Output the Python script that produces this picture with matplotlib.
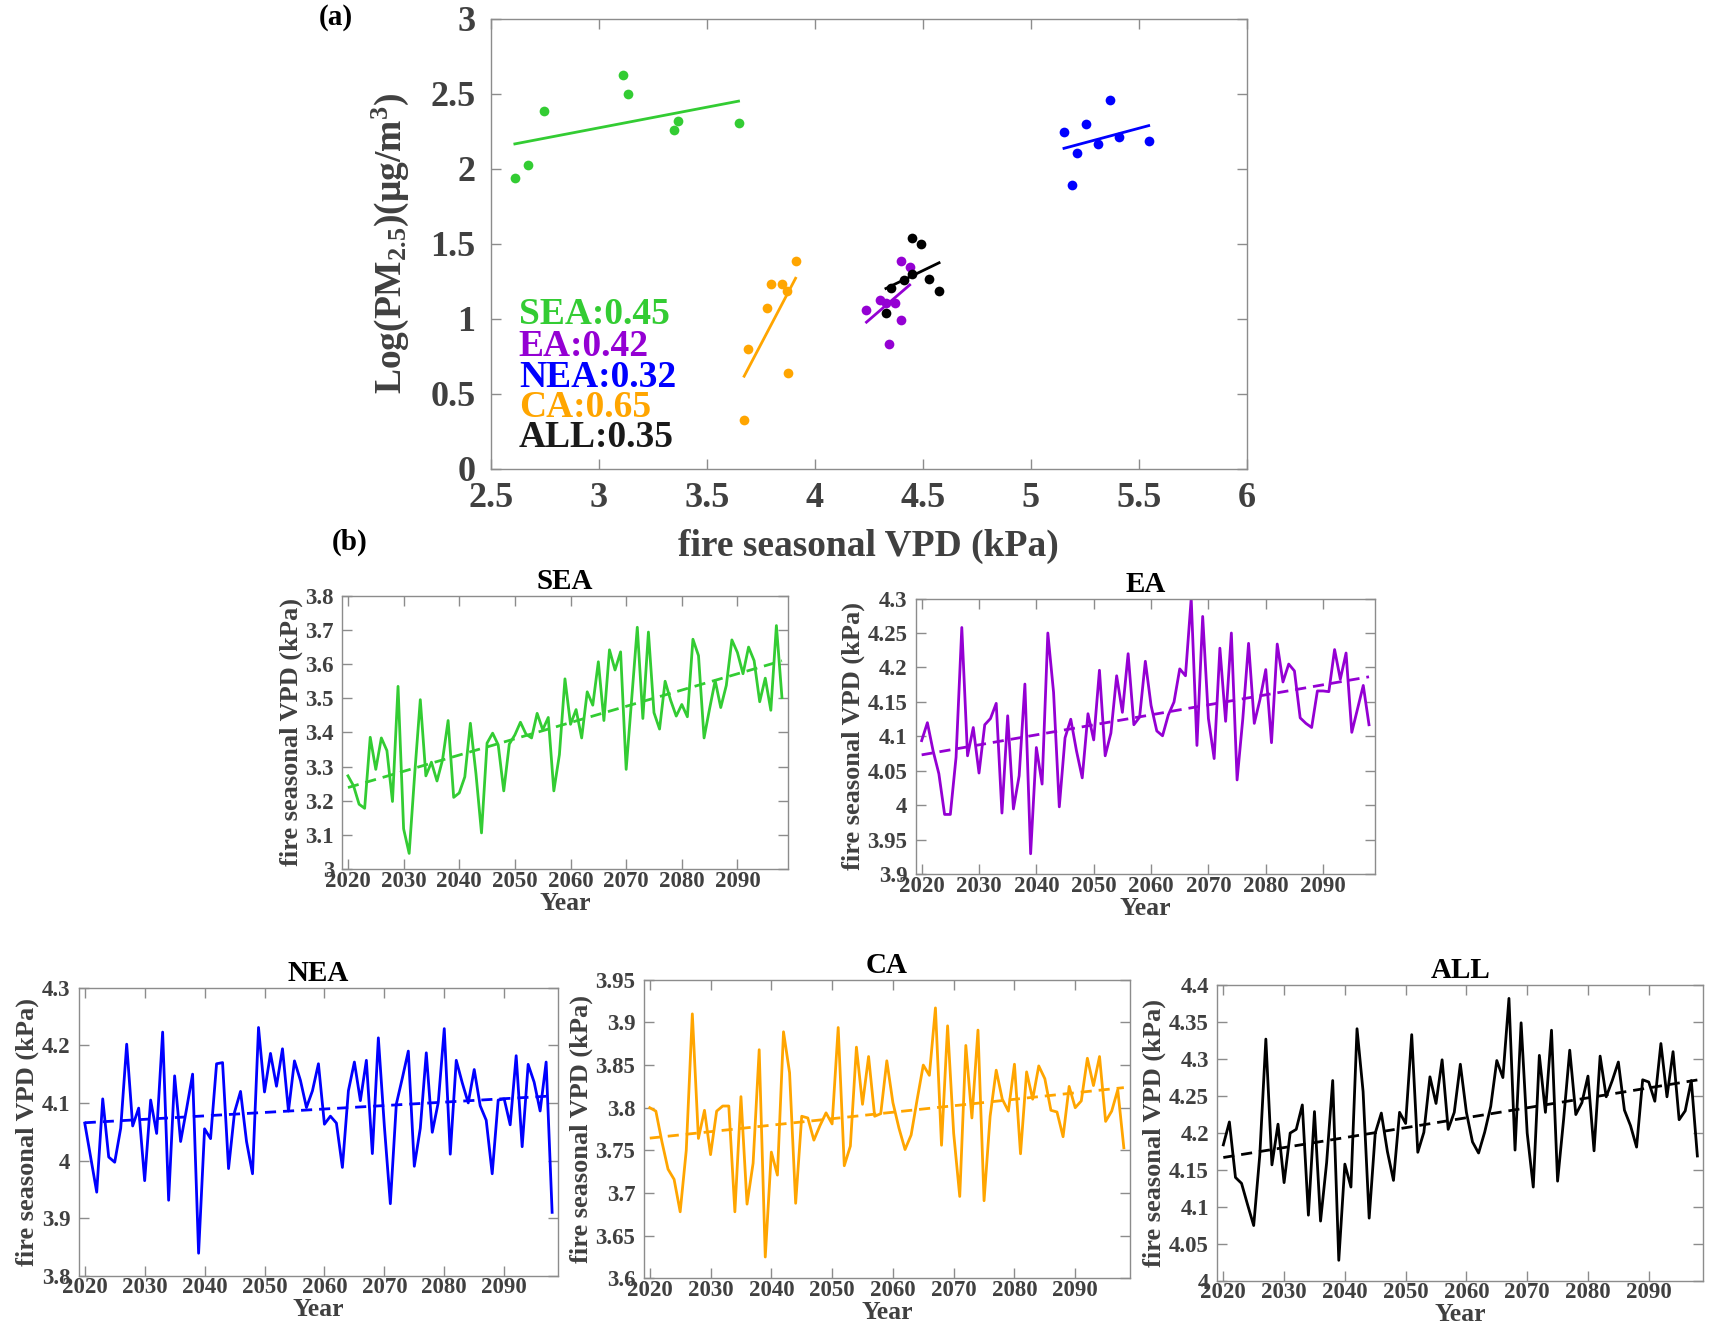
import numpy as np
import matplotlib
matplotlib.use("Agg")
import matplotlib.pyplot as plt
from matplotlib.ticker import FuncFormatter

plt.rcParams['font.family'] = ['Liberation Serif', 'DejaVu Serif']
plt.rcParams['font.weight'] = 'bold'
plt.rcParams['mathtext.fontset'] = 'custom'
plt.rcParams['mathtext.rm'] = 'Liberation Serif:bold'
plt.rcParams['mathtext.bf'] = 'Liberation Serif:bold'
plt.rcParams['mathtext.it'] = 'Liberation Serif:bold'

# ---------------- data ----------------
regions = ["SEA", "EA", "NEA", "CA", "ALL"]
colors = {"SEA": "#33cc33", "EA": "#9400d3", "NEA": "#0000ff", "CA": "#ffa500", "ALL": "#000000"}
r_values = ["0.45", "0.42", "0.32", "0.65", "0.35"]

# panel (a): fire-season VPD vs Log(PM2.5)
sea_x = [2.612, 2.673, 2.745, 3.113, 3.137, 3.348, 3.369, 3.647]
sea_y = [1.939, 2.027, 2.387, 2.621, 2.497, 2.258, 2.316, 2.306]
ea_x = [4.239, 4.300, 4.329, 4.369, 4.345, 4.401, 4.399, 4.439]
ea_y = [1.054, 1.121, 1.104, 1.104, 0.832, 0.990, 1.385, 1.347]
nea_x = [5.153, 5.188, 5.215, 5.255, 5.311, 5.364, 5.407, 5.545]
nea_y = [2.244, 1.891, 2.101, 2.296, 2.165, 2.459, 2.211, 2.184]
ca_x = [3.673, 3.692, 3.780, 3.799, 3.847, 3.871, 3.876, 3.911]
ca_y = [0.324, 0.794, 1.071, 1.228, 1.228, 1.185, 0.634, 1.385]
all_x = [4.329, 4.353, 4.412, 4.452, 4.452, 4.492, 4.527, 4.575]
all_y = [1.040, 1.202, 1.254, 1.295, 1.540, 1.495, 1.266, 1.183]

# panel (b): projected fire-season VPD, 2020-2098
years = np.arange(2020, 2099)
sea_vpd = [3.273, 3.244, 3.19, 3.178, 3.386, 3.292, 3.384, 3.347, 3.198, 3.535,
           3.118, 3.046, 3.28, 3.496, 3.273, 3.313, 3.258, 3.32, 3.435, 3.21,
           3.223, 3.27, 3.427, 3.28, 3.106, 3.369, 3.398, 3.364, 3.229, 3.366,
           3.393, 3.43, 3.395, 3.384, 3.456, 3.408, 3.444, 3.229, 3.335, 3.557,
           3.424, 3.467, 3.384, 3.519, 3.48, 3.607, 3.435, 3.642, 3.583, 3.636,
           3.292, 3.5, 3.708, 3.441, 3.694, 3.458, 3.41, 3.55, 3.494, 3.448,
           3.482, 3.446, 3.673, 3.625, 3.384, 3.47, 3.552, 3.473, 3.538, 3.671,
           3.634, 3.572, 3.65, 3.61, 3.49, 3.559, 3.465, 3.713, 3.502]
ea_vpd = [4.094, 4.12, 4.079, 4.046, 3.987, 3.987, 4.07, 4.258, 4.072, 4.113,
          4.047, 4.117, 4.126, 4.148, 3.989, 4.13, 3.995, 4.043, 4.176, 3.93,
          4.084, 4.031, 4.25, 4.164, 3.998, 4.098, 4.125, 4.079, 4.04, 4.133,
          4.095, 4.196, 4.072, 4.105, 4.188, 4.135, 4.22, 4.117, 4.128, 4.209,
          4.145, 4.108, 4.101, 4.131, 4.15, 4.198, 4.188, 4.30, 4.087, 4.274,
          4.126, 4.068, 4.228, 4.122, 4.25, 4.037, 4.126, 4.235, 4.119, 4.154,
          4.197, 4.091, 4.234, 4.179, 4.205, 4.195, 4.127, 4.119, 4.113, 4.166,
          4.166, 4.165, 4.226, 4.183, 4.221, 4.106, 4.14, 4.174, 4.117]
nea_vpd = [4.065, 4.005, 3.945, 4.107, 4.006, 3.997, 4.056, 4.202, 4.06, 4.091,
           3.965, 4.105, 4.047, 4.223, 3.931, 4.147, 4.033, 4.09, 4.15, 3.839,
           4.055, 4.038, 4.168, 4.17, 3.986, 4.084, 4.12, 4.033, 3.977, 4.231,
           4.119, 4.186, 4.129, 4.194, 4.086, 4.173, 4.139, 4.092, 4.121, 4.168,
           4.063, 4.077, 4.065, 3.988, 4.121, 4.171, 4.104, 4.174, 4.012, 4.213,
           4.06, 3.925, 4.098, 4.143, 4.19, 3.99, 4.056, 4.187, 4.049, 4.101,
           4.229, 4.011, 4.174, 4.135, 4.1, 4.158, 4.095, 4.07, 3.977, 4.105,
           4.107, 4.062, 4.182, 4.024, 4.167, 4.136, 4.086, 4.171, 3.91]
ca_vpd = [3.8, 3.796, 3.76, 3.728, 3.716, 3.678, 3.75, 3.91, 3.764, 3.797,
          3.745, 3.796, 3.802, 3.802, 3.678, 3.813, 3.687, 3.735, 3.868, 3.625,
          3.748, 3.721, 3.889, 3.841, 3.688, 3.79, 3.788, 3.762, 3.779, 3.794,
          3.781, 3.894, 3.732, 3.755, 3.871, 3.804, 3.86, 3.79, 3.793, 3.855,
          3.806, 3.776, 3.751, 3.768, 3.81, 3.85, 3.838, 3.917, 3.756, 3.896,
          3.77, 3.696, 3.873, 3.788, 3.891, 3.691, 3.79, 3.844, 3.81, 3.796,
          3.851, 3.746, 3.842, 3.81, 3.849, 3.834, 3.797, 3.795, 3.766, 3.825,
          3.8, 3.808, 3.858, 3.826, 3.86, 3.784, 3.796, 3.821, 3.753]
all_vpd = [4.184, 4.215, 4.14, 4.132, 4.103, 4.075, 4.17, 4.327, 4.157, 4.212,
           4.133, 4.2, 4.205, 4.238, 4.089, 4.229, 4.081, 4.16, 4.271, 4.028,
           4.158, 4.127, 4.341, 4.256, 4.085, 4.2, 4.227, 4.175, 4.136, 4.228,
           4.213, 4.333, 4.174, 4.201, 4.276, 4.24, 4.299, 4.205, 4.228, 4.293,
           4.228, 4.188, 4.173, 4.201, 4.236, 4.298, 4.275, 4.382, 4.177, 4.349,
           4.2, 4.127, 4.305, 4.228, 4.339, 4.135, 4.219, 4.312, 4.225, 4.241,
           4.277, 4.176, 4.304, 4.249, 4.271, 4.296, 4.231, 4.21, 4.181, 4.272,
           4.269, 4.243, 4.321, 4.249, 4.31, 4.218, 4.23, 4.271, 4.169]

scatter_x = {"SEA": sea_x, "EA": ea_x, "NEA": nea_x, "CA": ca_x, "ALL": all_x}
scatter_y = {"SEA": sea_y, "EA": ea_y, "NEA": nea_y, "CA": ca_y, "ALL": all_y}
series = {"SEA": sea_vpd, "EA": ea_vpd, "NEA": nea_vpd, "CA": ca_vpd, "ALL": all_vpd}

# y-axis settings for the time-series panels
ts_ylim = {"SEA": (3.0, 3.8), "EA": (3.9, 4.3), "NEA": (3.8, 4.3), "CA": (3.6, 3.95), "ALL": (4.0, 4.4)}
ts_ystep = {"SEA": 0.1, "EA": 0.05, "NEA": 0.1, "CA": 0.05, "ALL": 0.05}

# ---------------- styling ----------------
SPINE = "#8c8c8c"
TXT = "#404040"

fig = plt.figure(figsize=(17.12, 13.33), dpi=100)

def fmt(v, pos):
    return ("%.2f" % v).rstrip("0").rstrip(".")

def style_axes(ax, labelsize, xpad, ypad):
    for s in ax.spines.values():
        s.set_color(SPINE)
        s.set_linewidth(1.0)
    ax.tick_params(direction="in", top=True, right=True, length=7, width=1.0,
                   color=SPINE, labelcolor=TXT, labelsize=labelsize)
    ax.tick_params(axis="x", pad=xpad)
    ax.tick_params(axis="y", pad=ypad)
    for lab in ax.get_xticklabels() + ax.get_yticklabels():
        lab.set_fontweight("bold")

# ---------------- panel (a) ----------------
axa = fig.add_axes([0.2866, 0.6485, 0.7284 - 0.2866, 0.986 - 0.6485])
for reg in regions:
    x = np.array(scatter_x[reg])
    y = np.array(scatter_y[reg])
    axa.plot(x, y, "o", color=colors[reg], ms=7, mec="none")
    p = np.polyfit(x, y, 1)
    xx = np.array([x.min(), x.max()])
    axa.plot(xx, np.polyval(p, xx), "-", color=colors[reg], lw=2)
axa.set_xlim(2.5, 6)
axa.set_ylim(0, 3)
axa.set_xticks(np.arange(2.5, 6.01, 0.5))
axa.set_yticks(np.arange(0, 3.01, 0.5))
axa.xaxis.set_major_formatter(FuncFormatter(fmt))
axa.yaxis.set_major_formatter(FuncFormatter(fmt))
style_axes(axa, 26, 10, 11)
axa.set_xlabel("fire seasonal VPD (kPa)", fontsize=27, color=TXT, fontweight="bold", labelpad=10)
axa.set_ylabel(r"Log(PM$_{2.5}$)(μg/m$^{3}$)", fontsize=27, color=TXT, fontweight="bold", labelpad=14)

leg_y = [1.024, 0.811, 0.607, 0.404, 0.204]
for reg, rv, yy in zip(regions, r_values, leg_y):
    axa.text(2.63, yy, f"{reg}:{rv}", color=colors[reg] if reg != "ALL" else "#1a1a1a",
             fontsize=27, fontweight="bold", va="center", ha="left")

fig.text(0.196, 0.987, "(a)", fontsize=21, fontweight="bold", va="center", ha="center")
fig.text(0.204, 0.593, "(b)", fontsize=21, fontweight="bold", va="center", ha="center")

# ---------------- panel (b) ----------------
positions = {
    "SEA": [0.200, 0.348, 0.460 - 0.200, 0.553 - 0.348],
    "EA":  [0.535, 0.344, 0.803 - 0.535, 0.551 - 0.344],
    "NEA": [0.046, 0.043, 0.326 - 0.046, 0.259 - 0.043],
    "CA":  [0.376, 0.041, 0.660 - 0.376, 0.265 - 0.041],
    "ALL": [0.711, 0.039, 0.995 - 0.711, 0.261 - 0.039],
}

for reg in regions:
    ax = fig.add_axes(positions[reg])
    yv = np.array(series[reg])
    ax.plot(years, yv, "-", color=colors[reg], lw=2)
    p = np.polyfit(years, yv, 1)
    ax.plot(years, np.polyval(p, years), "--", color=colors[reg], lw=2, dashes=(4, 2.5))
    ax.set_xlim(2019, 2099)
    lo, hi = ts_ylim[reg]
    ax.set_ylim(lo, hi)
    ax.set_yticks(np.arange(lo, hi + 1e-6, ts_ystep[reg]))
    ax.set_xticks(np.arange(2020, 2091, 10))
    ax.yaxis.set_major_formatter(FuncFormatter(fmt))
    style_axes(ax, 16.5, 1, 6)
    ax.set_title(reg, fontsize=21, fontweight="bold", color="black", pad=5)
    ax.set_xlabel("Year", fontsize=18.5, fontweight="bold", color=TXT, labelpad=0)
    ax.set_ylabel("fire seasonal VPD (kPa)", fontsize=19, fontweight="bold", color=TXT, labelpad=2)

fig.savefig("out.png", dpi=100)
